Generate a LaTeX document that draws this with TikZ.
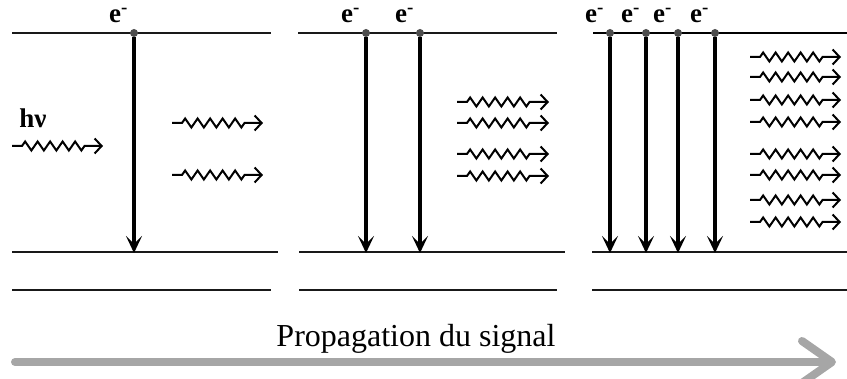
\documentclass[tikz,border=0pt]{standalone}
\usepackage{fontspec}
\setmainfont{Liberation Serif}
\usetikzlibrary{positioning,arrows.meta,decorations.pathmorphing}
\definecolor{signalgray}{HTML}{A6A6A6}

\begin{document}
\begin{tikzpicture}[x=1pt, y=-1pt,
	every node/.style={inner sep=0pt},
	level/.style={line width=2.7pt, draw=black!90},
	thinlevel/.style={line width=1.4pt, draw=black},
	electron/.style={circle, fill=black!70, minimum size=8pt, inner sep=0pt},
	elabel/.style={font=\fontsize{27}{27}\selectfont\bfseries},
	decay/.style={line width=3.2pt, -{Stealth[length=17pt, width=16pt, inset=8pt]}},
	photon/.style={line width=2pt,
				   decorate,
				   decoration={zigzag, segment length=12.5pt, amplitude=4.5pt,
				               pre length=10pt, post length=14pt},
				   -{Straight Barb[length=7pt, width=15pt]}},
	signal/.style={line width=8pt, draw=signalgray, line cap=round,
				   -{Straight Barb[length=30pt, width=42pt, round]}}
]
	\useasboundingbox (0,0) rectangle (847,379);

	% first panel: one electron
	\coordinate (top1l) at (12,33);   \coordinate (top1r) at (271,33);
	\coordinate (low1l) at (12,252);  \coordinate (low1r) at (278,252);
	\coordinate (bot1l) at (12,290);  \coordinate (bot1r) at (271,290);
	\draw[level] (top1l) -- (top1r);
	\draw[level] (low1l) -- (low1r);
	\draw[level] (bot1l) -- (bot1r);
	\node (hnu) [elabel, anchor=base] at (33,128) {hν};
	\coordinate (in0) at (12,146);    \coordinate (in1) at (103,146);
	\draw[photon] (in0) -- (in1);
	\node (el11) [electron] at (134,33) {};
	\node (e11) [elabel, above left=7pt and 3pt of el11] {e\textsuperscript{-}};
	\coordinate (end11) at (134,253);
	\draw[decay] (el11) -- (end11);
	\foreach \y [count=\i] in {123,175}{
		\coordinate (ph1\i a) at (172,\y);
		\coordinate (ph1\i b) at (263,\y);
		\draw[photon] (ph1\i a) -- (ph1\i b);
	}

	% second panel: two electrons
	\coordinate (top2l) at (298,33);  \coordinate (top2r) at (557,33);
	\coordinate (low2l) at (299,252); \coordinate (low2r) at (565,252);
	\coordinate (bot2l) at (299,290); \coordinate (bot2r) at (557,290);
	\draw[level] (top2l) -- (top2r);
	\draw[level] (low2l) -- (low2r);
	\draw[level] (bot2l) -- (bot2r);
	\foreach \x [count=\i] in {366,420}{
		\node (el2\i) [electron] at (\x,33) {};
		\node (e2\i) [elabel, above left=7pt and 3pt of el2\i] {e\textsuperscript{-}};
		\coordinate (end2\i) at (\x,253);
		\draw[decay] (el2\i) -- (end2\i);
	}
	\foreach \y [count=\i] in {102,123,154,176}{
		\coordinate (ph2\i a) at (457,\y);
		\coordinate (ph2\i b) at (549,\y);
		\draw[photon] (ph2\i a) -- (ph2\i b);
	}

	% third panel: four electrons
	\coordinate (top3l) at (593,33);  \coordinate (top3r) at (847,33);
	\coordinate (low3l) at (592,252); \coordinate (low3r) at (847,252);
	\coordinate (bot3l) at (592,290); \coordinate (bot3r) at (847,290);
	\draw[thinlevel] (top3l) -- (top3r);
	\draw[level] (low3l) -- (low3r);
	\draw[level] (bot3l) -- (bot3r);
	\foreach \x [count=\i] in {610,646,678,715}{
		\node (el3\i) [electron] at (\x,33) {};
		\node (e3\i) [elabel, above left=7pt and 3pt of el3\i] {e\textsuperscript{-}};
		\coordinate (end3\i) at (\x,253);
		\draw[decay] (el3\i) -- (end3\i);
	}
	\foreach \y [count=\i] in {57,77,100,122,154,175,200,222}{
		\coordinate (ph3\i a) at (750,\y);
		\coordinate (ph3\i b) at (841,\y);
		\draw[photon] (ph3\i a) -- (ph3\i b);
	}

	% propagation arrow
	\node (prop) [font=\fontsize{32}{32}\selectfont, anchor=base] at (416,347) {Propagation du signal};
	\coordinate (sig0) at (15,362);   \coordinate (sig1) at (836,362);
	\draw[signal] (sig0) -- (sig1);
\end{tikzpicture}
\end{document}
